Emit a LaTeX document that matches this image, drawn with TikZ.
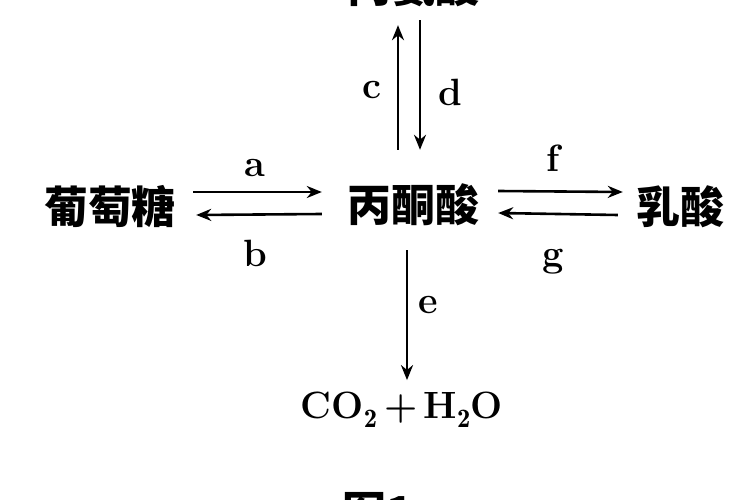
\documentclass[tikz,border=0pt]{standalone}
\usepackage{fontspec}
\newfontfamily\cjk{Noto Sans CJK SC}
\usetikzlibrary{arrows.meta}
\begin{document}
\begin{tikzpicture}[x=1pt,y=-1pt,
  chem/.style={font=\cjk\bfseries\fontsize{44}{44}\selectfont, inner sep=0pt, text height=36pt, text depth=6pt},
  lat/.style={font=\bfseries\fontsize{38}{38}\selectfont, inner sep=0pt},
  rx/.style={line width=2.6pt, -{Stealth[length=15pt,width=12pt]}}
]
\useasboundingbox (0,0) rectangle (750,500);
\clip (0,0) rectangle (750,500);
\node[chem] (ala) at (413,-12) {丙氨酸};
\node[chem] (pyr) at (413,207) {丙酮酸};
\node[chem] (glu) at (110,208) {葡萄糖};
\node[chem] (lac) at (680,208) {乳酸};
\node[lat] (co2) at (402,410) {CO$_{\mathbf 2}$\,+\,H$_{\mathbf 2}$O};
\node[chem] (fig) at (378,513) {图1};

\draw[rx] ([xshift=17pt,yshift=16pt]glu.east) -- ([xshift=-25pt,yshift=15pt]pyr.west);
\draw[rx] ([xshift=-25pt,yshift=-7pt]pyr.west) -- ([xshift=20pt,yshift=-7pt]glu.east);
\draw[rx] ([xshift=19pt,yshift=16pt]pyr.east) -- ([xshift=-13pt,yshift=16pt]lac.west);
\draw[rx] ([xshift=-18pt,yshift=-7pt]lac.west) -- ([xshift=19pt,yshift=-6pt]pyr.east);
\draw[rx] ([xshift=-15pt,yshift=36pt]pyr.north) -- ([xshift=-15pt,yshift=-16pt]ala.south);
\draw[rx] ([xshift=7pt,yshift=-11pt]ala.south) -- ([xshift=7pt,yshift=36pt]pyr.north);
\draw[rx] ([xshift=-6pt,yshift=-22pt]pyr.south) -- ([xshift=5pt,yshift=12pt]co2.north);

\node[lat] (la) at (255,168) {a};
\node[lat] (lb) at (255,253) {b};
\node[lat] (lc) at (372,90) {c};
\node[lat] (ld) at (450,92) {d};
\node[lat] (le) at (428,305) {e};
\node[lat] (lf) at (553,158) {f};
\node[lat] (lg) at (553,262) {g};
\end{tikzpicture}
\end{document}
